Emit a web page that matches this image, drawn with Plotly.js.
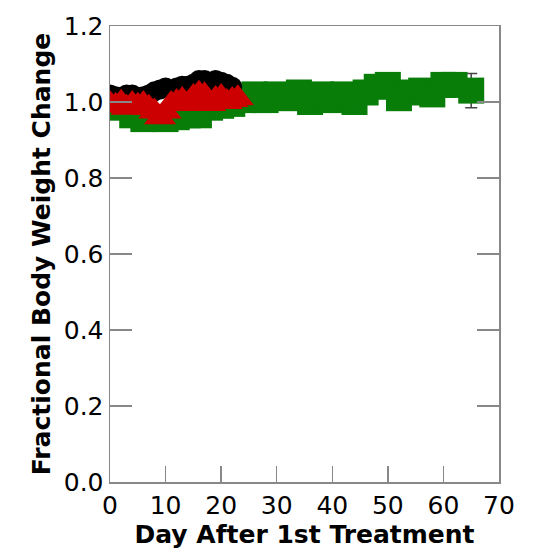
<!DOCTYPE html>
<html>
<head>
<meta charset="utf-8">
<script src="https://cdn.plot.ly/plotly-3.0.1.min.js"></script>
<style>html,body{margin:0;padding:0;background:#fff;}#chart{width:534px;height:556px;}</style>
</head>
<body>
<div id="chart"></div>
<script>
// Green squares
const greenDays = [0,2,4,6,8,10,12,14,16,18,20,22,24,26,28,30,32,34,36,38,40,42,44,46,48,50,52,54,56,58,60,62,65];
const greenVals = [1.00,0.985,0.965,0.955,0.96,0.955,0.96,0.965,0.965,0.985,0.99,0.995,1.005,1.02,1.005,1.02,1.01,1.025,1.0,1.02,1.005,1.02,1.0,1.025,1.04,1.045,1.01,1.025,1.03,1.02,1.045,1.045,1.03];
const greenErr  = [0.02,0.02,0.02,0.02,0.02,0.02,0.02,0.02,0.02,0.02,0.02,0.02,0.02,0.02,0.02,0.02,0.02,0.02,0.02,0.02,0.02,0.02,0.02,0.02,0.02,0.02,0.02,0.02,0.02,0.02,0.02,0.03,0.045];
// Black circles
const blackDays = [0,1,2,3,4,5,6,7,8,9,10,11,12,13,14,15,16,17,18,19,20,21,22];
const blackVals = [1.02,1.015,1.01,1.02,1.02,1.01,1.015,1.02,1.028,1.033,1.038,1.033,1.038,1.043,1.043,1.048,1.058,1.058,1.053,1.058,1.053,1.048,1.04];
// Red triangles
const redDays = [0,1,2,3,4,5,6,7,8,9,10,11,12,13,14,15,16,17,18,19,20,21,22,23];
const redVals = [0.995,0.99,0.998,0.985,0.995,0.99,0.995,0.985,0.975,0.96,0.975,0.995,1.0,1.005,0.995,1.013,1.022,1.018,0.995,1.008,1.013,1.0,1.005,1.01];

const xTicks = [0,10,20,30,40,50,60,70];
const yTicks = [0,0.2,0.4,0.6,0.8,1.0,1.2];

const traces = [
  {x: greenDays, y: greenVals, type: 'scatter', mode: 'markers',
   marker: {symbol: 'square', size: 26, color: '#087d08'},
   error_y: {type: 'data', array: greenErr, visible: true, color: '#444', thickness: 1.5, width: 6}},
  {x: blackDays, y: blackVals, type: 'scatter', mode: 'markers',
   marker: {symbol: 'circle', size: 20, color: '#000'}},
  {x: redDays, y: redVals, type: 'scatter', mode: 'markers',
   marker: {symbol: 'triangle-up', size: 28, color: '#cc0000'}}
];

const layout = {
  width: 534, height: 556,
  margin: {l: 110, r: 35, t: 26, b: 74},
  paper_bgcolor: '#fff', plot_bgcolor: '#fff',
  showlegend: false,
  font: {family: '"DejaVu Sans", sans-serif', color: '#000', size: 25},
  xaxis: {
    range: [0, 70], tickvals: xTicks, ticktext: xTicks.map(String),
    ticks: 'inside', ticklen: 16, tickwidth: 1.5, tickcolor: '#888',
    showline: true, linecolor: '#888', linewidth: 1.5, mirror: true,
    showgrid: false, zeroline: false,
    tickfont: {size: 25},
    title: {text: '<b>Day After 1st Treatment</b>', font: {size: 25}, standoff: 2}
  },
  yaxis: {
    range: [0, 1.2], tickvals: yTicks, ticktext: yTicks.map(v => v.toFixed(1)),
    ticks: 'inside', ticklen: 22, tickwidth: 1.5, tickcolor: '#888',
    showline: true, linecolor: '#888', linewidth: 1.5, mirror: 'ticks',
    showgrid: false, zeroline: false,
    tickfont: {size: 25},
    title: {text: '<b>Fractional Body Weight Change</b>', font: {size: 25}, standoff: 6}
  }
};

Plotly.newPlot('chart', traces, layout, {displayModeBar: false, staticPlot: true});
</script>
</body>
</html>
